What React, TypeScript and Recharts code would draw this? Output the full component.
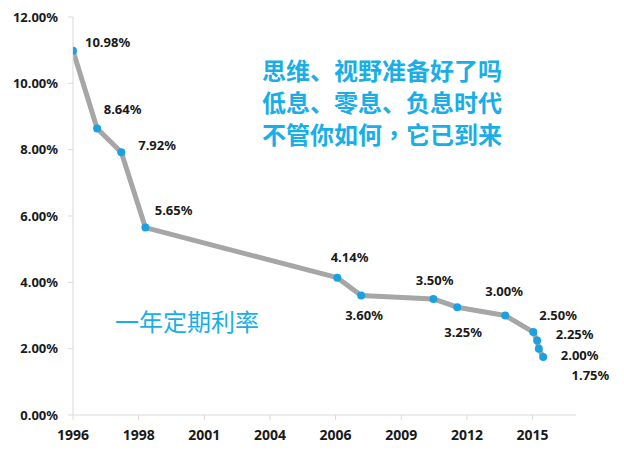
import React from "react";
import { LineChart, Line, XAxis, YAxis, LabelList } from "recharts";

// Decimal-year positions of each rate change
const years = [1996, 1997, 1998, 1999, 2006.95, 2007.94, 2010.93, 2011.92, 2013.91, 2015.07, 2015.23, 2015.3, 2015.48];
// One-year deposit rate, %
const rates = [10.98, 8.64, 7.92, 5.65, 4.14, 3.6, 3.5, 3.25, 3.0, 2.5, 2.25, 2.0, 1.75];
const rateLabels = ["10.98%", "8.64%", "7.92%", "5.65%", "4.14%", "3.60%", "3.50%", "3.25%", "3.00%", "2.50%", "2.25%", "2.00%", "1.75%"];

const xTicks = [1996, 1998.72, 2001.44, 2004.16, 2006.88, 2009.6, 2012.32, 2015.04];
const xTickLabels = ["1996", "1998", "2001", "2004", "2006", "2009", "2012", "2015"];
const yTicks = [0, 2, 4, 6, 8, 10, 12];

const headline = ["思维、视野准备好了吗", "低息、零息、负息时代", "不管你如何，它已到来"];
const seriesName = "一年定期利率";

// label offsets (left edge, vertical centre) relative to each point
const labelOffsets: [number, number][] = [
  [12, -8], [6.6, -19], [17, -7], [9.3, -17], [-6.6, -20], [-16, 20], [-17.6, -18],
  [-13, 25], [-20, -24], [6, -17], [18.7, -5.6], [22, 6.4], [28.4, 18.4],
];

const data = years.map((x, i) => ({ x, rate: rates[i], label: rateLabels[i] }));

const FONT = "'Noto Sans', 'DejaVu Sans', sans-serif";
const CJK = "'Noto Sans CJK SC', sans-serif";
const CJK_TC = "'Noto Sans CJK TC', sans-serif";
const BLUE = "#1AAEE8";

const Dot = (props: any) => {
  const { cx, cy } = props;
  if (cx == null || cy == null) return null;
  return <circle cx={cx} cy={cy} r={4} fill="#1BA1E2" stroke="none" />;
};

const PointLabel = (props: any) => {
  const { x, y, index } = props;
  const off = labelOffsets[index] || [0, 0];
  return (
    <text
      x={x + off[0]}
      y={y + off[1]}
      dy="0.35em"
      textAnchor="start"
      fontFamily={FONT}
      fontWeight="bold"
      fontSize={13}
      fill="#1a1a1a"
    >
      {rateLabels[index]}
    </text>
  );
};

const renderLine = (line: string) =>
  line.split("").map((ch, i) =>
    ch === "，" ? (
      <span key={i} style={{ fontFamily: CJK_TC }}>
        {ch}
      </span>
    ) : (
      ch
    )
  );

export default function App() {
  return (
    <div style={{ position: "fixed", left: 0, top: 0, width: 624, height: 454, background: "#fff" }}>
      <LineChart width={624} height={454} data={data} margin={{ top: 17, right: 48, bottom: 9, left: 0 }}>
        <XAxis
          dataKey="x"
          type="number"
          domain={[1996, 2016.84]}
          ticks={xTicks}
          tickFormatter={(v: number) => xTickLabels[xTicks.indexOf(v)] ?? ""}
          height={30}
          axisLine={{ stroke: "#D9D9D9" }}
          tickLine={{ stroke: "#D9D9D9" }}
          tickSize={5}
          tickMargin={10}
          tick={{ fontFamily: FONT, fontWeight: "bold", fontSize: 14, fill: "#1a1a1a" }}
          interval={0}
          allowDataOverflow
        />
        <YAxis
          type="number"
          domain={[0, 12]}
          ticks={yTicks}
          tickFormatter={(v: number) => `${v.toFixed(2)}%`}
          width={73}
          axisLine={{ stroke: "#D9D9D9" }}
          tickLine={{ stroke: "#D9D9D9" }}
          tickSize={5}
          tickMargin={10}
          tick={{ fontFamily: FONT, fontWeight: "bold", fontSize: 13, fill: "#1a1a1a" }}
          interval={0}
        />
        <Line
          type="linear"
          dataKey="rate"
          stroke="#A6A6A6"
          strokeWidth={5}
          strokeLinejoin="round"
          dot={<Dot />}
          activeDot={false}
          isAnimationActive={false}
        >
          <LabelList dataKey="label" content={<PointLabel />} />
        </Line>
      </LineChart>
      <div
        style={{
          position: "absolute",
          left: 262,
          top: 54,
          fontFamily: CJK,
          fontWeight: "bold",
          fontSize: 24,
          lineHeight: "32px",
          color: BLUE,
          whiteSpace: "nowrap",
        }}
      >
        {headline.map((l) => (
          <div key={l}>{renderLine(l)}</div>
        ))}
      </div>
      <div
        style={{
          position: "absolute",
          left: 115,
          top: 305,
          fontFamily: CJK,
          fontSize: 24,
          lineHeight: "32px",
          color: BLUE,
          whiteSpace: "nowrap",
        }}
      >
        {seriesName}
      </div>
    </div>
  );
}
